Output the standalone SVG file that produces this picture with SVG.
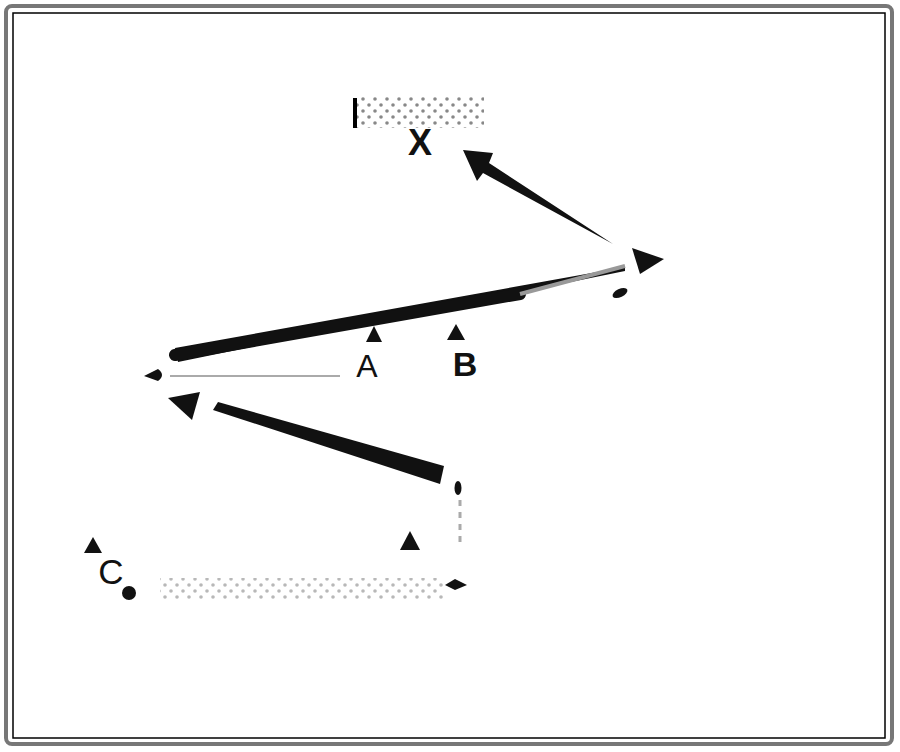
<svg xmlns="http://www.w3.org/2000/svg" width="900" height="752" viewBox="0 0 900 752">
<defs>
<pattern id="dots" width="12" height="12" patternUnits="userSpaceOnUse">
<circle cx="3" cy="3" r="1.8" fill="#888"/>
<circle cx="9" cy="9" r="1.8" fill="#888"/>
</pattern>
<style>
.tri{fill:#111}
.lbl{font-family:"Liberation Sans",Arial,sans-serif;fill:#111}
</style>
</defs>
<rect width="900" height="752" fill="#fff"/>
<rect x="6" y="6" width="886" height="738" rx="6" fill="none" stroke="#777" stroke-width="4"/>
<rect x="13" y="13" width="872" height="725" fill="none" stroke="#000" stroke-width="1.5"/>

<g id="nodeX">
<rect x="354" y="97" width="130" height="31" fill="url(#dots)"/>
<line x1="355" y1="98" x2="355" y2="128" stroke="#000" stroke-width="4"/>
<text class="lbl" x="420" y="155" text-anchor="middle" font-weight="bold" font-size="36">X</text>
</g>

<g id="connectors">
<polygon points="463,150 493,153 489,163 613,244 483,173 477,181" fill="#111"/>
<polygon points="625,267 175,348 178,362 625,271" fill="#111"/>
<line x1="175" y1="355" x2="520" y2="294" stroke="#111" stroke-width="12" stroke-linecap="round"/>
<path d="M520 294 L625 266" stroke="#999" stroke-width="4"/>
<ellipse cx="620" cy="293" rx="8" ry="4" transform="rotate(-25 620 293)" fill="#111"/>
<polygon points="632,248 664,259 640,274" class="tri"/>
<path d="M144 376 L158 369 Q166 375 158 381 Z" fill="#111"/>
<line x1="170" y1="376" x2="340" y2="376" stroke="#aaa" stroke-width="2"/>
<polygon points="168,398 200,392 192,420" class="tri"/>
<polygon points="218,402 444,466 440,484 213,410" fill="#111"/>
<ellipse cx="458" cy="488" rx="3.5" ry="7" fill="#111"/>
<line x1="460" y1="500" x2="460" y2="545" stroke="#aaa" stroke-width="3" stroke-dasharray="6 6"/>
<polygon points="445,585 455,579 467,585 455,590" fill="#111"/>
<rect x="160" y="578" width="285" height="22" fill="url(#dots)" opacity="0.6"/>
</g>

<g id="nodeA">
<polygon points="374,326 382,342 366,342" class="tri"/>
<text class="lbl" x="367" y="377" text-anchor="middle" font-size="32">A</text>
</g>
<g id="nodeB">
<polygon points="456,324 465,340 447,340" class="tri"/>
<text class="lbl" x="465" y="376" text-anchor="middle" font-weight="bold" font-size="34">B</text>
</g>
<g id="nodeC">
<polygon points="93,537 102,553 84,553" class="tri"/>
<text class="lbl" x="111" y="584" text-anchor="middle" font-size="35">C</text>
<circle cx="129" cy="593" r="7" fill="#111"/>
</g>
<g id="nodeD">
<polygon points="410,531 420,550 400,550" class="tri"/>
</g>
</svg>
